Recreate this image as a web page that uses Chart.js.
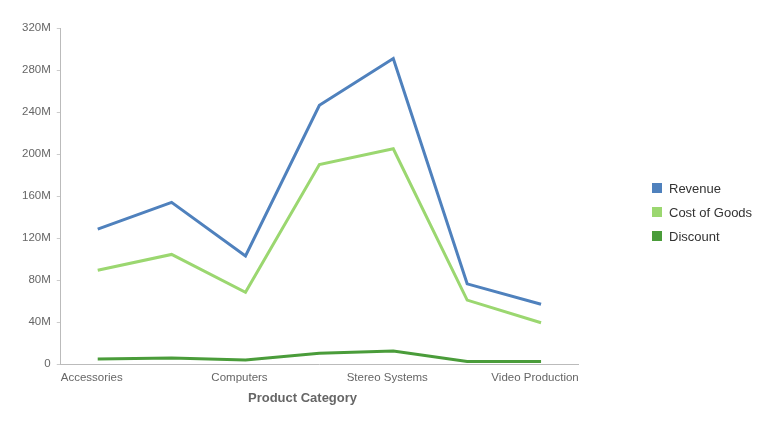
<!DOCTYPE html>
<html>
<head>
<meta charset="utf-8">
<script src="https://cdn.jsdelivr.net/npm/chart.js@4/dist/chart.umd.min.js"></script>
<style>
html,body{margin:0;padding:0;background:#fff;}
#wrap{width:767px;height:431px;position:relative;}
</style>
</head>
<body>
<div id="wrap"><canvas id="c" width="767" height="431"></canvas></div>
<script>
const categories = ["Accessories","Camcorders","Computers","Home Audio","Stereo Systems","TV","Video Production"];
const revenue = [128.5e6, 154e6, 103e6, 246.5e6, 291e6, 76.5e6, 57e6];
const costOfGoods = [89.5e6, 104.5e6, 68.5e6, 190e6, 205e6, 61e6, 39.5e6];
const discount = [5e6, 6e6, 4e6, 10.5e6, 12.5e6, 2.5e6, 2.5e6];
const yTicks = [0,40e6,80e6,120e6,160e6,200e6,240e6,280e6,320e6];
const xAxisTitle = 'Product Category';

const font = "'Liberation Sans', Arial, sans-serif";

const extras = {
  id:'extras',
  afterDraw(chart){
    const ctx = chart.ctx;
    const ds = chart.data.datasets;
    const x = 652, yc = 188, step = 24;
    ctx.save();
    ctx.font = "13px " + font;
    ctx.textBaseline = 'middle';
    ctx.textAlign = 'left';
    ds.forEach((d,i)=>{
      const y = yc + i*step;
      ctx.fillStyle = d.borderColor;
      ctx.fillRect(x, y-5, 10, 10);
      ctx.fillStyle = '#333';
      ctx.fillText(d.label, x+17, y+1);
    });
    // x axis title
    ctx.font = "bold 13px " + font;
    ctx.textAlign = 'center';
    ctx.fillStyle = '#666';
    ctx.fillText(xAxisTitle, 302.5, 398);
    ctx.restore();
  }
};

new Chart(document.getElementById('c'), {
  type: 'line',
  data: {
    labels: categories,
    datasets: [
      {label:'Revenue', data:revenue, borderColor:'#4f81bd', backgroundColor:'#4f81bd', borderWidth:3, pointRadius:0, tension:0},
      {label:'Cost of Goods', data:costOfGoods, borderColor:'#9bd770', backgroundColor:'#9bd770', borderWidth:3, pointRadius:0, tension:0},
      {label:'Discount', data:discount, borderColor:'#4a9c3a', backgroundColor:'#4a9c3a', borderWidth:3, pointRadius:0, tension:0}
    ]
  },
  plugins:[extras],
  options: {
    responsive:false,
    animation:false,
    layout:{padding:{top:28,left:16,right:189,bottom:39}},
    plugins:{
      tooltip:{enabled:false},
      legend:{display:false}
    },
    scales:{
      x:{
        offset:true,
        grid:{drawOnChartArea:false,drawTicks:false},
        border:{display:true,color:'#bbb',width:1},
        ticks:{autoSkip:false,maxRotation:0,padding:7,labelOffset:-6,color:'#666',font:{family:font,size:11.5},
          callback:function(v,i){return i%2===0?categories[i]:'';}},
        title:{display:false}
      },
      y:{
        min:0,max:320e6,
        afterBuildTicks:function(ax){ax.ticks = yTicks.map(v=>({value:v}));},
        grid:{drawOnChartArea:false,drawTicks:true,tickLength:4,color:'#ccc'},
        border:{display:true,color:'#bbb',width:1},
        ticks:{padding:6,color:'#666',font:{family:font,size:11.5},
          callback:function(v){return v===0?'0':(v/1e6)+'M';}}
      }
    }
  }
});
</script>
</body>
</html>
